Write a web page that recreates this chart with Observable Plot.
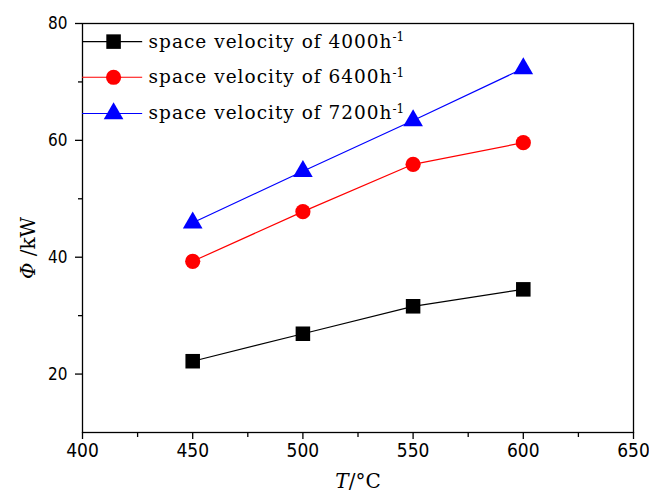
<!DOCTYPE html>
<html><head><meta charset="utf-8">
<script src="https://cdn.jsdelivr.net/npm/d3@7"></script>
<script src="https://cdn.jsdelivr.net/npm/@observablehq/plot@0.6"></script>
<style>body{margin:0;background:#fff} #chart svg{display:block}</style>
</head><body><div id="chart"></div>
<script>
const temperatures = [450, 500, 550, 600];
const seriesNames = ["space velocity of 4000h", "space velocity of 6400h", "space velocity of 7200h"];
const sv4000 = [22.2, 26.9, 31.6, 34.5];
const sv6400 = [39.3, 47.8, 55.9, 59.6];
const sv7200 = [45.9, 54.7, 63.4, 72.3];
const xTicks = [400, 450, 500, 550, 600, 650];
const xMinorTicks = [425, 475, 525, 575, 625];
const yTicks = [20, 40, 60, 80];
const yMinorTicks = [30, 50, 70];
const colors = ["#000000", "#ff0000", "#0000ff"];
const symbols = ["square", "circle", "triangle"];
const radii = [8.2, 7.6, 7.3];
const xLabel = "T/°C";
const yLabel = "Φ /kW";

const seriesValues = [sv4000, sv6400, sv7200];
const data = seriesValues.flatMap((vals, i) => vals.map((v, j) => ({T: temperatures[j], P: v, s: seriesNames[i], i})));

// legend layout (inside the plot area, upper-left)
const legY = [76.9, 70.8, 64.6];
const legend = seriesNames.map((name, i) => ({name, i, y: legY[i]}));

const tickFont = "Liberation Sans Narrow, DejaVu Sans Condensed, sans-serif";
const serif = "DejaVu Serif, Liberation Serif, serif";

const marks = [
  Plot.frame({stroke: "#000", strokeWidth: 1.3}),
  Plot.axisY(yTicks, {tickSize: 7, tickPadding: 8, fontSize: 17, fontFamily: tickFont, label: null, strokeWidth: 1.3}),
  Plot.axisY(yMinorTicks, {tickSize: 4, tickFormat: null, text: null, label: null, strokeWidth: 1.3}),
  Plot.axisX(xTicks, {tickSize: 7, tickPadding: 4, fontSize: 19, fontFamily: tickFont, label: null, strokeWidth: 1.3}),
  Plot.axisX(xMinorTicks, {tickSize: 5, tickFormat: null, text: null, label: null, strokeWidth: 1.3}),
];
seriesNames.forEach((name, i) => {
  const d = data.filter(r => r.i === i);
  marks.push(Plot.line(d, {x: "T", y: "P", stroke: colors[i], strokeWidth: 1.2}));
  marks.push(Plot.dot(d, {x: "T", y: "P", symbol: () => symbols[i], fill: colors[i], r: radii[i], stroke: "none"}));
  const lg = [legend[i]];
  marks.push(Plot.ruleY(lg, {y: "y", x1: () => 400, x2: () => 427.3, stroke: colors[i], strokeWidth: 1.2}));
  marks.push(Plot.dot(lg, {x: () => 414.1, y: "y", symbol: () => symbols[i], fill: colors[i], r: radii[i], stroke: "none"}));
  marks.push(Plot.text(lg, {x: () => 430, y: "y", text: "name", textAnchor: "start", lineAnchor: "middle", fontSize: 18.5, fontFamily: serif, fill: "#000", className: "leg-label"}));
});
marks.push(Plot.text([xLabel], {frameAnchor: "bottom", dy: 49, text: d => d, fontSize: 20, fontFamily: serif, textAnchor: "middle", lineAnchor: "middle", className: "x-title"}));
marks.push(Plot.text([yLabel], {frameAnchor: "left", dx: -54, dy: 20, rotate: -90, text: d => d, fontSize: 20, fontFamily: serif, textAnchor: "middle", lineAnchor: "middle", className: "y-title"}));

const chart = Plot.plot({
  width: 649, height: 495,
  marginLeft: 82, marginRight: 16, marginTop: 23, marginBottom: 63,
  x: {domain: [400, 650]},
  y: {domain: [10, 80]},
  style: {background: "#fff", color: "#000"},
  marks
});
document.getElementById("chart").append(chart);

// superscripts in legend
chart.querySelectorAll(".leg-label text").forEach(t => {
  t.setAttribute("letter-spacing", "1");
  const sup = document.createElementNS("http://www.w3.org/2000/svg", "tspan");
  sup.setAttribute("dy", "-0.55em");
  sup.setAttribute("font-size", "12");
  sup.setAttribute("letter-spacing", "0");
  sup.textContent = "-1";
  t.appendChild(sup);
});
// italic symbols in axis titles
function italicFirst(sel) {
  chart.querySelectorAll(sel + " text").forEach(t => {
    const s = t.textContent;
    t.textContent = "";
    const a = document.createElementNS("http://www.w3.org/2000/svg", "tspan");
    a.setAttribute("font-style", "italic");
    a.textContent = s[0];
    const b = document.createElementNS("http://www.w3.org/2000/svg", "tspan");
    b.textContent = s.slice(1);
    t.append(a, b);
  });
}
italicFirst(".x-title");
italicFirst(".y-title");
</script>
</body></html>
